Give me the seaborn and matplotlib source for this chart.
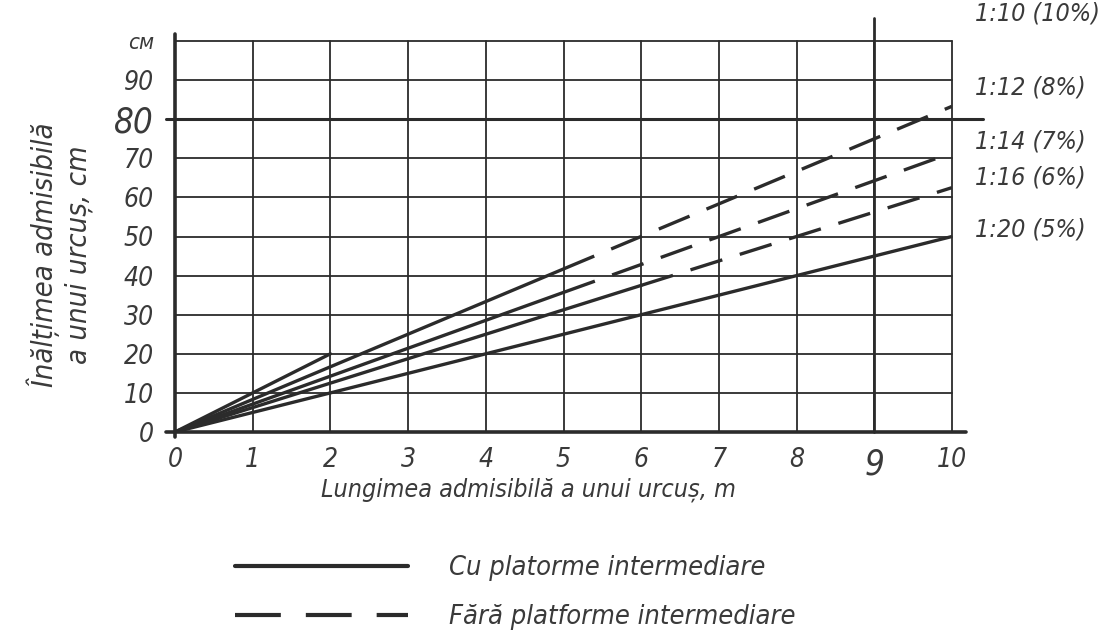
import seaborn as sns
import pandas as pd
import matplotlib.pyplot as plt
from matplotlib.lines import Line2D

# Rampele (panta) si valorile
rampe = ['1:10 (10%)', '1:12 (8%)', '1:14 (7%)', '1:16 (6%)', '1:20 (5%)']
# capatul portiunii continue (cu platforme intermediare)
lung_plin = [2, 5, 5, 6, 10]
inalt_plin = [20, 41.7, 35.7, 37.5, 50]
# capatul portiunii intrerupte (fara platforme intermediare)
lung_intrerupt = [None, 10, 10, 10, None]
inalt_intrerupt = [None, 83.3, 71.4, 62.5, None]

x_ticks = list(range(11))
y_ticks = list(range(0, 101, 10))
y_tick_labels = ['0', '10', '20', '30', '40', '50', '60', '70', '80', '90', 'см']

# Build the long table for seaborn
rows = []
for i, r in enumerate(rampe):
    rows.append({'rampa': r, 'seg': f'{i}p', 'tip': 'plin', 'x': 0, 'y': 0})
    rows.append({'rampa': r, 'seg': f'{i}p', 'tip': 'plin', 'x': lung_plin[i], 'y': inalt_plin[i]})
    if lung_intrerupt[i] is not None:
        rows.append({'rampa': r, 'seg': f'{i}d', 'tip': 'intrerupt', 'x': lung_plin[i], 'y': inalt_plin[i]})
        rows.append({'rampa': r, 'seg': f'{i}d', 'tip': 'intrerupt', 'x': lung_intrerupt[i], 'y': inalt_intrerupt[i]})
df = pd.DataFrame(rows)

sns.set_theme(style='white')
plt.rcParams['font.family'] = ['DejaVu Sans']
plt.rcParams['font.stretch'] = 'condensed'
plt.rcParams['font.style'] = 'italic'

ink = '#2b2b2b'
txt = '#3a3a3a'

fig = plt.figure(figsize=(11.12, 6.33), dpi=100)
ax = fig.add_axes([175 / 1112, 1 - 432 / 633, 777 / 1112, 391 / 633])

sns.lineplot(data=df, x='x', y='y', units='seg', style='tip', estimator=None,
             dashes={'plin': '', 'intrerupt': (10, 5.5)}, color=ink,
             linewidth=2.4, legend=False, ax=ax, zorder=3)

ax.set_xlim(0, 10)
ax.set_ylim(0, 100)
ax.set_xticks(x_ticks)
ax.set_yticks(y_ticks)
ax.set_xticklabels([str(t) for t in x_ticks], fontsize=19, color=txt)
ax.set_yticklabels(y_tick_labels, fontsize=19, color=txt)
ax.tick_params(axis='both', length=0)
ax.tick_params(axis='x', pad=11)
ax.tick_params(axis='y', pad=15)
for lbl in ax.get_yticklabels():
    if lbl.get_text() == '80':
        lbl.set_fontsize(25)
    if lbl.get_text() == 'см':
        lbl.set_fontsize(16)
for lbl in ax.get_xticklabels():
    if lbl.get_text() == '9':
        lbl.set_fontsize(25)
ax.set_xlabel('')
ax.set_ylabel('')
for s in ax.spines.values():
    s.set_visible(False)

# grid
for xv in x_ticks:
    ax.plot([xv, xv], [0, 100], color=ink, lw=1.3, clip_on=False, zorder=1)
for yv in y_ticks:
    ax.plot([0, 10], [yv, yv], color=ink, lw=1.3, clip_on=False, zorder=1)

# axes and highlighted lines
ax.plot([-0.12, 10.18], [0, 0], color=ink, lw=2.6, clip_on=False, zorder=4)
ax.plot([0, 0], [-1.2, 101.8], color=ink, lw=2.6, clip_on=False, zorder=4)
ax.plot([-0.12, 10.4], [80, 80], color=ink, lw=2.2, clip_on=False, zorder=4)
ax.plot([9, 9], [0, 106], color=ink, lw=2.0, clip_on=False, zorder=4)

# ramp labels on the right
label_y = [14, 87, 141, 178, 229]
for r, py in zip(rampe, label_y):
    fig.text(975 / 1112, 1 - py / 633, r, fontsize=18, color=txt, va='center', ha='left')

fig.text(528 / 1112, 1 - 490 / 633, 'Lungimea admisibilă a unui urcuș, m',
         fontsize=18, color=txt, ha='center', va='center')
fig.text(60 / 1112, 1 - 255 / 633, 'Înălțimea admisibilă\na unui urcuș, cm',
         fontsize=21, color=txt, ha='center', va='center', rotation=90,
         multialignment='center', linespacing=1.2)

handles = [Line2D([], [], color=ink, lw=3.0),
           Line2D([], [], color=ink, lw=3.0, dashes=(11, 6))]
fig.legend(handles, ['Cu platorme intermediare', 'Fără platforme intermediare'],
           loc='upper left', bbox_to_anchor=(235 / 1112, 1 - 555 / 633),
           frameon=False, fontsize=19.5, handlelength=6.4, handletextpad=1.5,
           labelspacing=0.85, borderpad=0, borderaxespad=0, labelcolor=txt)

fig.savefig('out.png', dpi=100, facecolor='white')
